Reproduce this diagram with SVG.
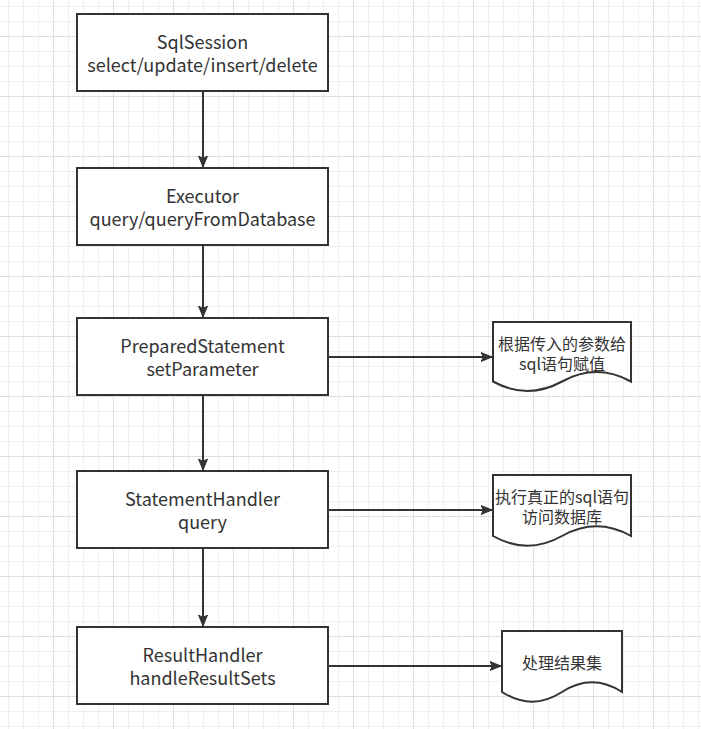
<svg xmlns="http://www.w3.org/2000/svg" width="701" height="729" viewBox="0 0 701 729">
<style>
  .box { fill: #ffffff; stroke: #333333; stroke-width: 2; }
  .doc { fill: #ffffff; stroke: #333333; stroke-width: 2; }
  .t { font-family: "Noto Sans CJK SC", "Noto Sans", sans-serif; font-size: 18px; fill: #333333; text-anchor: middle; }
  .d { font-family: "Noto Sans CJK SC", "Noto Sans", sans-serif; font-size: 16px; fill: #333333; text-anchor: middle; }
  .edge { stroke: #333333; stroke-width: 2; fill: none; }
</style>
<defs>
  <pattern id="grid" patternUnits="userSpaceOnUse" x="-7" y="-24" width="60" height="60">
    <path d="M15.5 0V60M30.5 0V60M45.5 0V60M0 15.5H60M0 30.5H60M0 45.5H60" stroke="#efefef" stroke-width="1" fill="none"/>
    <path d="M0.5 0V60M0 0.5H60" stroke="#dedede" stroke-width="1" fill="none"/>
  </pattern>
  <marker id="arrow" viewBox="0 0 12 10" refX="11" refY="5" markerWidth="12" markerHeight="10" markerUnits="userSpaceOnUse" orient="auto">
    <path d="M0 0.5L11 5L0 9.5L2.5 5Z" fill="#333333" stroke="#333333" stroke-width="1"/>
  </marker>
</defs>
<rect x="0" y="0" width="701" height="729" fill="#ffffff"/>
<rect x="0" y="0" width="701" height="729" fill="url(#grid)"/>

<g id="connectors">
  <line class="edge" x1="203" y1="91" x2="203" y2="167" marker-end="url(#arrow)"/>
  <line class="edge" x1="203" y1="245" x2="203" y2="317" marker-end="url(#arrow)"/>
  <line class="edge" x1="203" y1="395" x2="203" y2="470" marker-end="url(#arrow)"/>
  <line class="edge" x1="203" y1="548" x2="203" y2="626" marker-end="url(#arrow)"/>
  <line class="edge" x1="328" y1="357" x2="492" y2="357" marker-end="url(#arrow)"/>
  <line class="edge" x1="328" y1="510" x2="492" y2="510" marker-end="url(#arrow)"/>
  <line class="edge" x1="328" y1="666" x2="501" y2="666" marker-end="url(#arrow)"/>
</g>

<g id="sqlsession">
  <rect class="box" x="77" y="14" width="251" height="77"/>
  <text class="t" x="202.5" y="49">SqlSession</text>
  <text class="t" x="202.5" y="72">select/update/insert/delete</text>
</g>
<g id="executor">
  <rect class="box" x="77" y="168" width="251" height="77"/>
  <text class="t" x="202.5" y="203">Executor</text>
  <text class="t" x="202.5" y="226">query/queryFromDatabase</text>
</g>
<g id="preparedstatement">
  <rect class="box" x="77" y="318" width="251" height="77"/>
  <text class="t" x="202.5" y="353">PreparedStatement</text>
  <text class="t" x="202.5" y="376">setParameter</text>
</g>
<g id="statementhandler">
  <rect class="box" x="77" y="471" width="251" height="77"/>
  <text class="t" x="202.5" y="506">StatementHandler</text>
  <text class="t" x="202.5" y="529">query</text>
</g>
<g id="resulthandler">
  <rect class="box" x="77" y="627" width="251" height="77"/>
  <text class="t" x="202.5" y="662">ResultHandler</text>
  <text class="t" x="202.5" y="685">handleResultSets</text>
</g>

<g id="doc1">
  <path class="doc" d="M493 322H631V381.5Q596.5 362.6 562 381.5Q527.5 400.4 493 381.5Z"/>
  <text class="d" x="562" y="350">根据传入的参数给</text>
  <text class="d" x="562" y="370">sql语句赋值</text>
</g>
<g id="doc2">
  <path class="doc" d="M493 475H631V536Q596.5 516.6 562 536Q527.5 555.4 493 536Z"/>
  <text class="d" x="562" y="503">执行真正的sql语句</text>
  <text class="d" x="562" y="523">访问数据库</text>
</g>
<g id="doc3">
  <path class="doc" d="M502 631H622V692Q592 672.6 562 692Q532 711.4 502 692Z"/>
  <text class="d" x="562" y="669">处理结果集</text>
</g>
</svg>
